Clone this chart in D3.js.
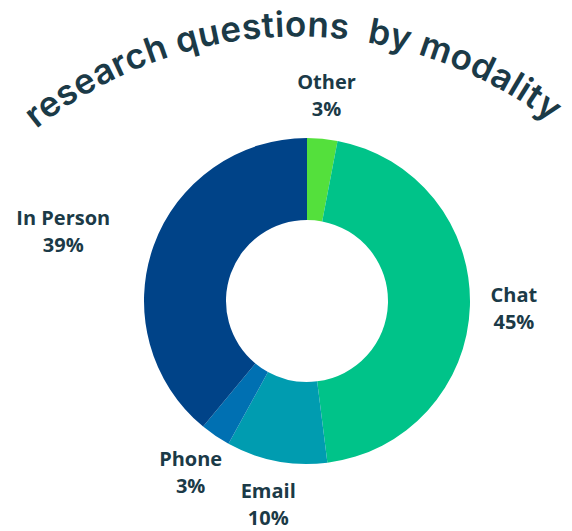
<!DOCTYPE html>
<html>
<head>
<meta charset="utf-8">
<script src="https://cdn.jsdelivr.net/npm/d3@7"></script>
<style>
  body { margin: 0; background: #fff; }
  #chart { width: 572px; height: 531px; }
  .label { font-family: "Open Sans", sans-serif; font-weight: 700; font-size: 20px; fill: #1b3a47; }
  .title { font-family: "Inter", sans-serif; font-weight: 600; font-size: 35px; fill: #1b3a47; white-space: pre; }
</style>
</head>
<body>
<div id="chart"></div>
<script>
/* DATA */
const categories = ["Other", "Chat", "Email", "Phone", "In Person"];
const percents = [3, 45, 10, 3, 39];
const colors = ["#54e03c", "#00c389", "#009cb0", "#0070b2", "#004388"];
const titleText = "research questions\u00a0 by modality";

/* DIMENSIONS */
const width = 572, height = 531;
const center = {x: 307, y: 301};
const outerR = 163, innerR = 81, labelR = 207;

const svg = d3.select("#chart")
    .append("svg")
    .attr("width", width)
    .attr("height", height);

const slices = categories.map(function(c, i) {
    return {name: c, value: percents[i], color: colors[i]};
});

const pie = d3.pie().sort(null).value(function(d) { return d.value; });
const arc = d3.arc().innerRadius(innerR).outerRadius(outerR);
const labelArc = d3.arc().innerRadius(labelR).outerRadius(labelR);

const g = svg.append("g")
    .attr("transform", `translate(${center.x},${center.y})`);

/* DRAW SLICES */
g.selectAll("path.slice")
    .data(pie(slices))
    .enter()
    .append("path")
        .attr("class", "slice")
        .attr("d", arc)
        .attr("fill", function(d) { return d.data.color; });

/* LABELS */
const lineGap = 27;
const labels = g.selectAll("text.label")
    .data(pie(slices))
    .enter()
    .append("text")
        .attr("class", "label")
        .attr("text-anchor", "middle");

labels.append("tspan")
    .attr("x", 0)
    .attr("dy", 0)
    .text(function(d) { return d.data.name; });
labels.append("tspan")
    .attr("x", 0)
    .attr("dy", lineGap)
    .text(function(d) { return d.data.value + "%"; });

// place each block centred on its label point, push out if it hits the ring
const clearance = 38;
labels.each(function(d) {
    const t = d3.select(this);
    const c = labelArc.centroid(d);
    const box = this.getBBox();
    let x = c[0];
    let y = c[1] - (box.y + box.height / 2);
    const corners = function(px) {
        const xs = [px - box.width / 2, px + box.width / 2];
        const ys = [y + box.y, y + box.y + box.height];
        return [[xs[0], ys[0]], [xs[0], ys[1]], [xs[1], ys[0]], [xs[1], ys[1]]];
    };
    const hits = corners(x).some(function(p) { return Math.hypot(p[0], p[1]) < outerR + 2; });
    if (hits) {
        const dir = Math.sign(c[0]);
        while (!corners(x).every(function(p) { return Math.hypot(p[0], p[1]) >= outerR + clearance; })) {
            x += dir;
        }
    }
    t.attr("transform", `translate(${x},${y})`);
});

/* CURVED TITLE */
const tc = {x: 297.6, y: 451.5}, tr = 415;
const deg = Math.PI / 180;
const tp = d3.path();
tp.arc(tc.x, tc.y, tr, -Math.PI / 2 - 39 * deg, -Math.PI / 2 + 45 * deg);
svg.append("path")
    .attr("id", "titlePath")
    .attr("d", tp.toString())
    .attr("fill", "none");

svg.append("text")
    .attr("class", "title")
    .append("textPath")
        .attr("href", "#titlePath")
        .attr("textLength", tr * 76.5 * deg)
        .attr("lengthAdjust", "spacing")
        .text(titleText);
</script>
</body>
</html>
